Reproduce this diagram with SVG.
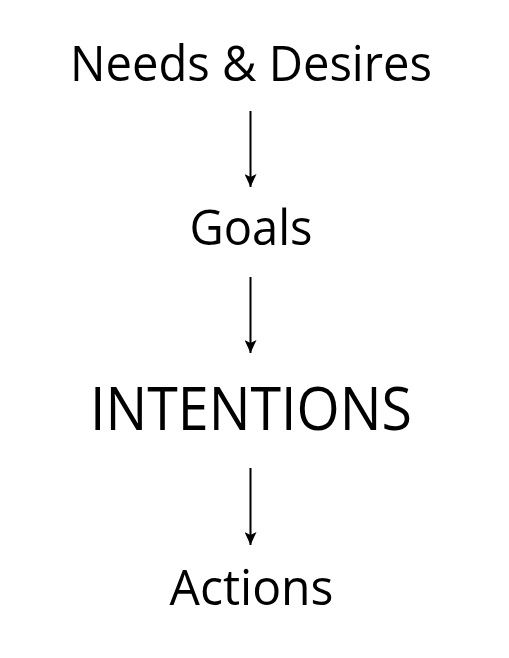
<svg xmlns="http://www.w3.org/2000/svg" width="509" height="658" viewBox="0 0 509 658">
<defs>
<style>
text{font-family:"Open Sans","Noto Sans",sans-serif;fill:#000;text-anchor:middle}
.n{font-size:50px}
.big{font-size:60px}
.c line{stroke:#000;stroke-width:2}
</style>
<marker id="ah" viewBox="0 0 13 12" refX="13" refY="6" markerWidth="13" markerHeight="12" markerUnits="userSpaceOnUse" orient="auto">
<path d="M0,0 L13,6 L0,12 L3,6 Z" fill="#000"/>
</marker>
</defs>
<rect width="509" height="658" fill="#fff"/>
<g id="needs"><text class="n" x="251" y="81" textLength="362" lengthAdjust="spacingAndGlyphs">Needs &amp; Desires</text></g>
<g id="goals"><text class="n" x="251" y="245" textLength="123" lengthAdjust="spacingAndGlyphs">Goals</text></g>
<g id="intentions"><text class="big" x="251" y="430" textLength="322" lengthAdjust="spacingAndGlyphs">INTENTIONS</text></g>
<g id="actions"><text class="n" x="251.5" y="605" textLength="164" lengthAdjust="spacingAndGlyphs">Actions</text></g>
<g id="connectors" class="c">
<line x1="250.5" y1="111" x2="250.5" y2="187" marker-end="url(#ah)"/>
<line x1="250.5" y1="277" x2="250.5" y2="353" marker-end="url(#ah)"/>
<line x1="250.5" y1="468" x2="250.5" y2="545" marker-end="url(#ah)"/>
</g>
</svg>
